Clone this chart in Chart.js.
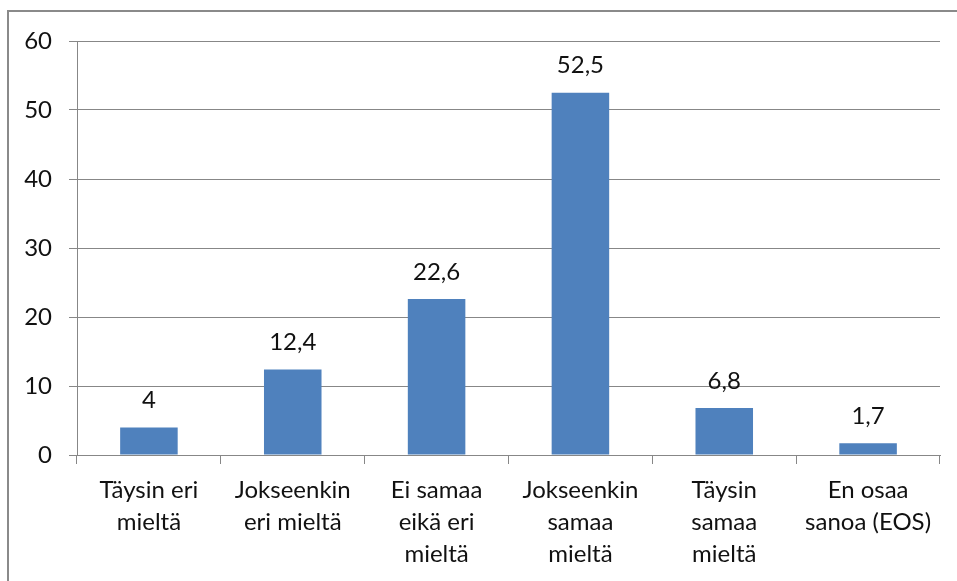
<!DOCTYPE html>
<html>
<head>
<meta charset="utf-8">
<script src="https://cdn.jsdelivr.net/npm/chart.js@4/dist/chart.umd.min.js"></script>
<style>
  html, body { margin: 0; padding: 0; background: #fff; overflow: hidden; }
  #wrap { position: relative; width: 957px; height: 581px; }
  #frame {
    position: absolute; left: 7px; top: 10px; width: 1000px; height: 700px;
    border: 2px solid #8a8a8a; pointer-events: none;
  }
</style>
</head>
<body>
<div id="wrap">
  <canvas id="chart" width="957" height="581"></canvas>
  <div id="frame"></div>
</div>
<script>
// kategoriat (rivitetty kuten alkuperäisessä)
var categories = [
  ['Täysin eri', 'mieltä'],
  ['Jokseenkin', 'eri mieltä'],
  ['Ei samaa', 'eikä eri', 'mieltä'],
  ['Jokseenkin', 'samaa', 'mieltä'],
  ['Täysin', 'samaa', 'mieltä'],
  ['En osaa', 'sanoa (EOS)']
];
var values = [4, 12.4, 22.6, 52.5, 6.8, 1.7];
var valueLabels = ['4', '12,4', '22,6', '52,5', '6,8', '1,7'];
var yTicks = [0, 10, 20, 30, 40, 50, 60];

var FONT = 'Lato, "Liberation Sans", Arial, sans-serif';
var FSIZE = 24;
var GRID = '#878787';

// arvot pylväiden yläpuolelle
var valueLabelPlugin = {
  id: 'valueLabels',
  afterDatasetsDraw: function(chart){
    var ctx = chart.ctx;
    var meta = chart.getDatasetMeta(0);
    ctx.save();
    ctx.font = FSIZE + 'px ' + FONT;
    ctx.fillStyle = '#111';
    ctx.textAlign = 'center';
    ctx.textBaseline = 'middle';
    meta.data.forEach(function(bar, i){
      ctx.fillText(valueLabels[i], bar.x, bar.y - 27);
    });
    ctx.restore();
  }
};

Chart.defaults.font.family = FONT;
Chart.defaults.color = '#111';

new Chart(document.getElementById('chart'), {
  type: 'bar',
  data: {
    labels: categories,
    datasets: [{
      data: values,
      backgroundColor: '#4F81BD',
      barPercentage: 0.4,
      categoryPercentage: 1.0
    }]
  },
  options: {
    responsive: false,
    animation: false,
    layout: { padding: { left: 0, top: 41, right: 17, bottom: 0 } },
    plugins: { legend: { display: false }, tooltip: { enabled: false } },
    scales: {
      x: {
        grid: {
          offset: true,
          drawOnChartArea: false,
          tickLength: 9,
          color: GRID,
          lineWidth: 1
        },
        border: { color: GRID, width: 1 },
        ticks: {
          font: { size: FSIZE, lineHeight: 32 / FSIZE },
          padding: 10,
          maxRotation: 0,
          autoSkip: false
        },
        afterFit: function(scale){ scale.height = 581 - 455; }
      },
      y: {
        min: 0,
        max: 60,
        afterBuildTicks: function(scale){
          scale.ticks = yTicks.map(function(v){ return { value: v }; });
        },
        grid: { color: GRID, tickLength: 8, lineWidth: 1 },
        border: { color: GRID, width: 1 },
        ticks: {
          font: { size: FSIZE },
          padding: 17
        },
        afterFit: function(scale){ scale.width = 77; }
      }
    }
  },
  plugins: [valueLabelPlugin]
});
</script>
</body>
</html>
